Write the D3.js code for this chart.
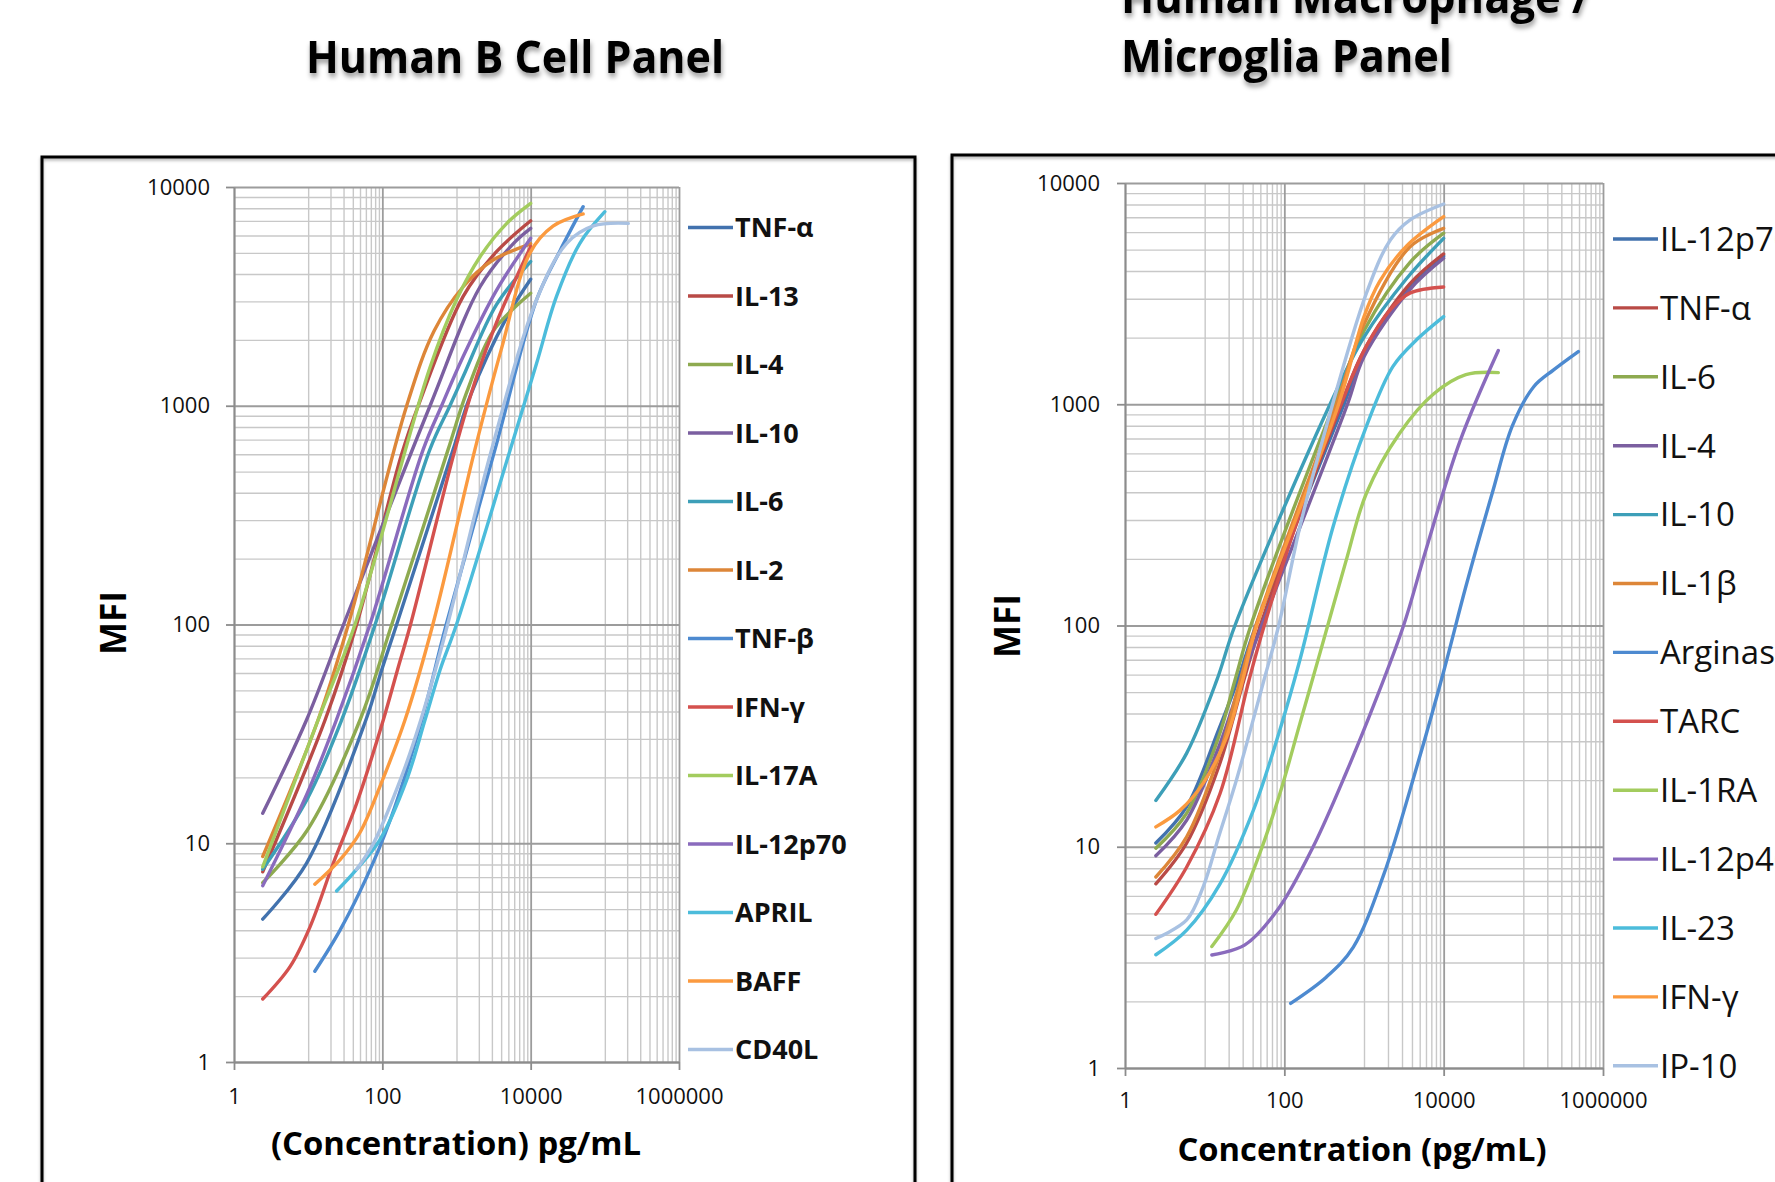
<!DOCTYPE html>
<html>
<head>
<meta charset="utf-8">
<script src="https://cdn.jsdelivr.net/npm/d3@7"></script>
<style>
  body { margin: 0; background: #fff; overflow: hidden; }
  text { font-family: "Open Sans", sans-serif; }
</style>
</head>
<body>
<svg id="chart" width="1775" height="1182"></svg>
<script>
// series names, in legend order
const bCellNames = ['TNF-α', 'IL-13', 'IL-4', 'IL-10', 'IL-6', 'IL-2', 'TNF-β', 'IFN-γ',
  'IL-17A', 'IL-12p70', 'APRIL', 'BAFF', 'CD40L'];
const macroNames = ['IL-12p70', 'TNF-α', 'IL-6', 'IL-4', 'IL-10', 'IL-1β', 'Arginase', 'TARC',
  'IL-1RA', 'IL-12p40', 'IL-23', 'IFN-γ', 'IP-10'];

// [concentration pg/mL, MFI]
const bCellCurves = [
  [[2.44, 4.5], [9.5, 8.1], [60, 36.6], [98, 62], [156, 100], [900, 630], [1520, 1100], [4800, 2550], [10000, 3790]],
  [[2.44, 7.4], [16.9, 36.6], [45, 100], [182, 600], [305, 1000], [1230, 3160], [3460, 5060], [10000, 7010]],
  [[2.44, 6.6], [9.77, 11.5], [50, 36.6], [134, 100], [770, 630], [1370, 1150], [3140, 2200], [10000, 3270]],
  [[2.44, 13.7], [9.5, 36.6], [30, 100], [440, 1000], [2080, 3500], [5800, 5500], [10000, 6470]],
  [[2.44, 7.6], [9.77, 16], [28.3, 36.6], [80, 100], [437, 630], [815, 1000], [1230, 1360], [3460, 2900], [10000, 4560]],
  [[2.44, 8.7], [13.6, 36.6], [34.8, 100], [213, 1000], [500, 2200], [1230, 3500], [3000, 4600], [10000, 5500]],
  [[12.3, 2.6], [26.8, 4.0], [61.5, 7.0], [127, 12.7], [340, 36.6], [727, 100], [3300, 630], [12000, 3050], [25000, 5130], [51000, 8130]],
  [[2.44, 1.94], [5.7, 2.73], [10.6, 4.15], [21.8, 8.1], [45, 15.2], [103, 36.6], [160, 62], [240, 100], [955, 630], [1870, 1360], [3460, 2400], [10000, 5340]],
  [[2.44, 7.8], [13.6, 36.6], [42.8, 100], [440, 1500], [1000, 3050], [2080, 4800], [4800, 6840], [10000, 8420]],
  [[2.44, 6.4], [9.77, 17], [24, 36.6], [68, 100], [355, 630], [630, 1000], [1230, 1680], [3460, 3370], [10000, 5830]],
  [[24.2, 6.05], [45, 7.6], [93, 10.4], [213, 19.5], [376, 36.6], [600, 62], [1000, 100], [5300, 630], [12000, 1560], [22300, 3160], [46000, 5530], [100000, 7710]],
  [[12.3, 6.5], [26.8, 8.4], [50, 11.2], [93, 18.2], [202, 36.6], [480, 100], [1770, 630], [4000, 1800], [9800, 5000], [20000, 6620], [51000, 7530]],
  [[45, 7.6], [76, 10], [180, 20], [330, 36.6], [700, 90], [2970, 630], [12000, 3050], [30600, 5530], [70000, 6640], [207000, 6820]]
];

const macroCurves = [
  [[2.44, 10.4], [5.95, 15.2], [15, 33.8], [26, 56.6], [44, 100], [560, 1000], [1000, 1700], [3760, 3390], [10000, 4680]],
  [[2.44, 6.8], [5.95, 10.4], [15, 23], [31, 56.6], [50, 100], [520, 1000], [1000, 1750], [3760, 3500], [10000, 4780]],
  [[2.44, 9.85], [5.95, 14.2], [15, 31.4], [24, 56.6], [38, 100], [420, 1000], [1000, 2150], [3760, 4370], [10000, 5930]],
  [[2.44, 9.1], [5.95, 13.2], [15, 28.2], [29, 56.6], [52, 100], [620, 1000], [1000, 1640], [3760, 3300], [10000, 4570]],
  [[2.44, 16.2], [5.95, 26.5], [14.2, 56.6], [24, 100], [375, 1000], [1000, 2010], [3430, 3700], [10000, 5620]],
  [[2.44, 7.3], [5.95, 11.1], [15, 25.5], [28, 56.6], [44, 100], [450, 1000], [1000, 2300], [3760, 5140], [10000, 6240]],
  [[120, 1.96], [338, 2.58], [735, 3.52], [1750, 7.4], [4600, 23], [10000, 62], [19000, 150], [41000, 400], [73000, 800], [135000, 1200], [240000, 1430], [490000, 1730]],
  [[2.44, 4.95], [5.95, 8.1], [15.6, 17.4], [36, 56.6], [56, 100], [200, 420], [500, 980], [1070, 1830], [2140, 2680], [3760, 3180], [10000, 3390]],
  [[12.3, 3.54], [25, 5.18], [49, 9.3], [88, 17.4], [157, 36.1], [280, 75], [600, 198], [1070, 395], [2800, 740], [7400, 1110], [19000, 1360], [48500, 1390]],
  [[12.3, 3.24], [32, 3.6], [86, 5.3], [230, 10], [610, 22], [1370, 45], [3140, 100], [6000, 220], [16000, 680], [48500, 1750]],
  [[2.44, 3.25], [5.95, 4.2], [15.6, 6.8], [40.8, 14.6], [88, 33.8], [157, 70], [410, 280], [1070, 794], [2300, 1480], [4600, 1960], [10000, 2490]],
  [[2.44, 12.3], [4.9, 14.6], [9.6, 19.4], [18.9, 31.4], [30, 56.6], [45, 100], [480, 1000], [1000, 2490], [1580, 3600], [3430, 5200], [10000, 7050]],
  [[2.44, 3.85], [5.95, 4.67], [9.6, 6.6], [15, 11.1], [25, 20], [55, 56], [85, 100], [157, 280], [337, 794], [1070, 3170], [2140, 5530], [3760, 6800], [10000, 8040]]
];

const seriesColors = ['#4272ae', '#b94a46', '#8eaa50', '#7b5fa0', '#3d9fb8', '#dd8638', '#4d8ad0',
  '#d4514e', '#a3cc5e', '#8a6bbd', '#4cbcdb', '#fb9a3f', '#a8c1e2'];

const xTicks = [1, 100, 10000, 1000000];
const yTicks = [1, 10, 100, 1000, 10000];
const xMinor = [1, 3, 5].flatMap(e => d3.range(1, 10).map(k => k * Math.pow(10, e)));
const yMinor = [0, 1, 2, 3].flatMap(e => d3.range(2, 10).map(k => k * Math.pow(10, e)));

const svg = d3.select('#chart');

const defs = svg.append('defs');
const shadow = defs.append('filter').attr('id', 'shadow')
  .attr('x', '-10%').attr('y', '-20%').attr('width', '120%').attr('height', '160%');
shadow.append('feDropShadow').attr('dx', 1).attr('dy', 4).attr('stdDeviation', 2.5)
  .attr('flood-color', '#000').attr('flood-opacity', 0.4);
const boxShadow = defs.append('filter').attr('id', 'boxShadow');
boxShadow.append('feDropShadow').attr('dx', 0).attr('dy', 2).attr('stdDeviation', 1.5)
  .attr('flood-color', '#000').attr('flood-opacity', 0.3);

function drawPanel(p) {
  svg.append('rect')
    .attr('x', p.box[0]).attr('y', p.box[1])
    .attr('width', p.box[2]).attr('height', 1200)
    .attr('fill', 'none').attr('stroke', '#000').attr('stroke-width', 3)
    .attr('filter', 'url(#boxShadow)');

  const x = d3.scaleLog().domain([1, 1e6]).range([p.x0, p.x1]);
  const y = d3.scaleLog().domain([1, 1e4]).range([p.y0, p.y1]);
  const g = svg.append('g');
  const h = p.y0 - p.y1, w = p.x1 - p.x0;

  const styleGrid = (color, width) => s => {
    s.select('.domain').remove();
    s.selectAll('line').attr('stroke', color).attr('stroke-width', width);
  };

  // minor grid
  g.append('g').attr('transform', `translate(0,${p.y0})`)
    .call(d3.axisBottom(x).tickValues(xMinor).tickSize(-h).tickFormat(''))
    .call(styleGrid('#c8c8c8', 1.4));
  g.append('g').attr('transform', `translate(${p.x0},0)`)
    .call(d3.axisLeft(y).tickValues(yMinor).tickSize(-w).tickFormat(''))
    .call(styleGrid('#c8c8c8', 1.4));
  // major grid
  g.append('g').attr('transform', `translate(0,${p.y0})`)
    .call(d3.axisBottom(x).tickValues(xTicks).tickSize(-h).tickFormat(''))
    .call(styleGrid('#9c9c9c', 1.8));
  g.append('g').attr('transform', `translate(${p.x0},0)`)
    .call(d3.axisLeft(y).tickValues(yTicks).tickSize(-w).tickFormat(''))
    .call(styleGrid('#9c9c9c', 1.8));

  // axes
  const ax = g.append('g').attr('transform', `translate(0,${p.y0})`)
    .call(d3.axisBottom(x).tickValues(xTicks).tickSize(8).tickSizeOuter(0)
      .tickPadding(p.xPad).tickFormat(d3.format('d')));
  const ay = g.append('g').attr('transform', `translate(${p.x0},0)`)
    .call(d3.axisLeft(y).tickValues(yTicks).tickSize(8).tickSizeOuter(0)
      .tickPadding(p.yPad).tickFormat(d3.format('d')));
  [ax, ay].forEach(a => {
    a.select('.domain').attr('stroke', '#8c8c8c').attr('stroke-width', 1.8);
    a.selectAll('.tick line').attr('stroke', '#8c8c8c').attr('stroke-width', 1.8);
    a.selectAll('text').attr('font-family', '"Open Sans", sans-serif')
      .attr('font-size', 22).attr('fill', '#111');
  });

  // curves
  const line = d3.line()
    .x(d => x(d[0])).y(d => y(d[1]))
    .curve(d3.curveCatmullRom.alpha(0.5));
  g.append('g').selectAll('path')
    .data(p.curves)
    .join('path')
    .attr('d', line)
    .attr('fill', 'none')
    .attr('stroke', (d, i) => seriesColors[i])
    .attr('stroke-width', 3.4)
    .attr('stroke-linecap', 'round');

  // legend
  const lg = svg.append('g').selectAll('g')
    .data(p.names)
    .join('g')
    .attr('transform', (d, i) => `translate(${p.legX},${p.legY + i * p.legStep})`);
  lg.append('line').attr('x1', 0).attr('x2', 45)
    .attr('stroke', (d, i) => seriesColors[i]).attr('stroke-width', 3.4);
  lg.append('text').attr('x', 47).attr('dy', '0.36em')
    .attr('font-size', p.legSize).attr('font-weight', p.legWeight).attr('fill', '#111')
    .text(d => d);

  // axis titles
  svg.append('text')
    .attr('x', p.xTitle[0]).attr('y', p.xTitle[1]).attr('text-anchor', 'middle')
    .attr('dy', '0.36em').attr('font-size', 33).attr('font-weight', 700)
    .attr('textLength', p.xTitle[2]).attr('lengthAdjust', 'spacingAndGlyphs')
    .text(p.xLabel);
  svg.append('text')
    .attr('transform', `translate(${p.yTitle[0]},${p.yTitle[1]}) rotate(-90)`)
    .attr('text-anchor', 'middle').attr('dy', '0.36em')
    .attr('font-size', 35).attr('font-weight', 700)
    .text('MFI');
}

drawPanel({
  box: [42, 157, 873],
  x0: 234, x1: 679, y0: 1062, y1: 187,
  xPad: 18, yPad: 16,
  curves: bCellCurves, names: bCellNames,
  legX: 688, legY: 227.5, legStep: 68.5, legSize: 27, legWeight: 700,
  xLabel: '(Concentration) pg/mL', xTitle: [456, 1143, 370],
  yTitle: [113, 623]
});

drawPanel({
  box: [952, 155, 900],
  x0: 1125, x1: 1603, y0: 1068, y1: 183,
  xPad: 16, yPad: 17,
  curves: macroCurves, names: macroNames,
  legX: 1613, legY: 239, legStep: 68.9, legSize: 33, legWeight: 400,
  xLabel: 'Concentration (pg/mL)', xTitle: [1362, 1149, 369],
  yTitle: [1007, 626]
});

// panel titles
const titleStyle = s => s.attr('font-size', 44).attr('font-weight', 700)
  .attr('fill', '#000').attr('filter', 'url(#shadow)');
svg.append('text').attr('x', 306).attr('y', 73)
  .attr('textLength', 418).attr('lengthAdjust', 'spacingAndGlyphs')
  .call(titleStyle).text('Human B Cell Panel');
svg.append('text').attr('x', 1121).attr('y', 13)
  .attr('textLength', 469).attr('lengthAdjust', 'spacingAndGlyphs')
  .call(titleStyle).text('Human Macrophage /');
svg.append('text').attr('x', 1121).attr('y', 72)
  .attr('textLength', 331).attr('lengthAdjust', 'spacingAndGlyphs')
  .call(titleStyle).text('Microglia Panel');
</script>
</body>
</html>
